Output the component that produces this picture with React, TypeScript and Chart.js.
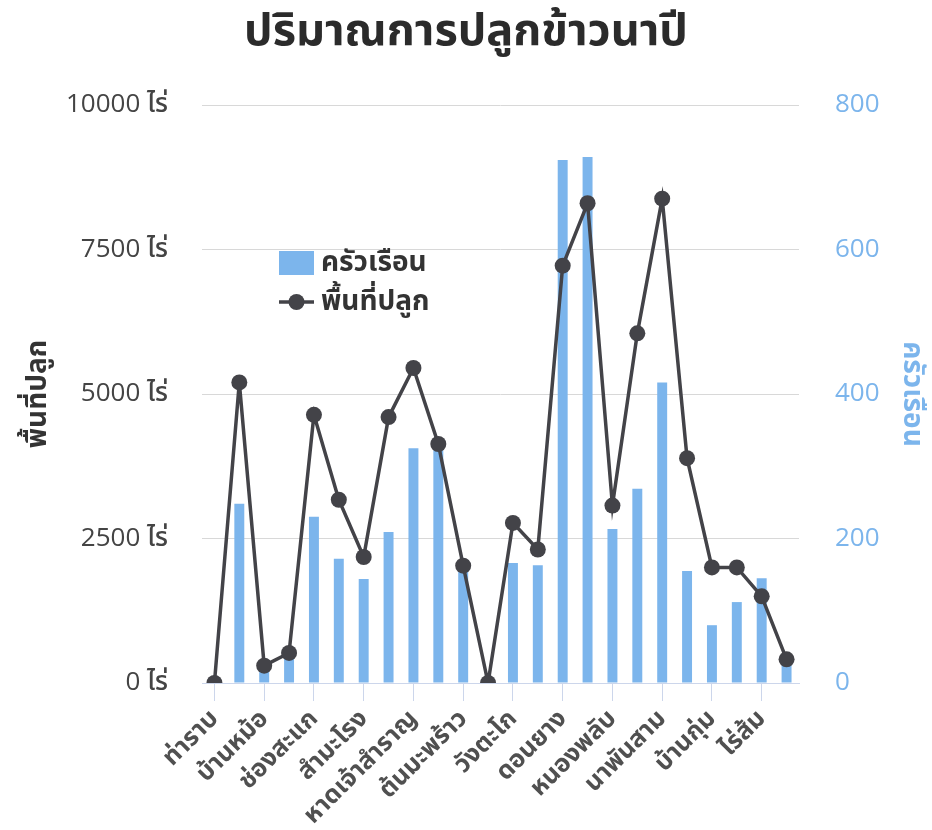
import React, { useEffect, useRef } from "react";
import { Chart, registerables } from "chart.js";

Chart.register(...registerables);

const categories: string[] = [
  "ท่าราบ", "คลองกระแชง", "บ้านหม้อ", "ต้นมะม่วง", "ช่องสะแก", "นาวุ้ง",
  "สำมะโรง", "โพพระ", "หาดเจ้าสำราญ", "หัวสะพาน", "ต้นมะพร้าว", "โพไร่หวาน",
  "วังตะโก", "บางจาน", "ดอนยาง", "หนองขนาน", "หนองพลับ", "ธงชัย",
  "นาพันสาม", "หนองโสน", "บ้านกุ่ม", "เวียงคอย", "ไร่ส้ม", "บางจาก",
];

const households: number[] = [
  0, 248, 20, 35, 230, 172, 144, 209, 325, 322, 155, 0,
  166, 163, 724, 728, 213, 269, 416, 155, 80, 112, 145, 25,
];

const plantedArea: number[] = [
  0, 5200, 300, 520, 4640, 3170, 2180, 4600, 5450, 4135, 2030, 0,
  2770, 2310, 7220, 8300, 3070, 6050, 8380, 3890, 2000, 2000, 1500, 410,
];

const leftTicks: number[] = [0, 2500, 5000, 7500, 10000];
const rightTicks: number[] = [0, 200, 400, 600, 800];

const TITLE = "ปริมาณการปลูกข้าวนาปี";
const BAR_LABEL = "ครัวเรือน";
const LINE_LABEL = "พื้นที่ปลูก";
const UNIT = "ไร่";

const FONT = "'Open Sans', 'Noto Sans Thai', 'Noto Sans', Tahoma, sans-serif";
const BAR_COLOR = "#7cb5ec";
const LINE_COLOR = "#434348";

const legendPlugin = {
  id: "insideLegend",
  afterDatasetsDraw(chart: any) {
    const { ctx, chartArea } = chart;
    const x0 = chartArea.left + 77;
    const y0 = chartArea.top + 158;
    const ds = chart.data.datasets;
    ctx.save();
    ctx.font = `bold 28px ${FONT}`;
    ctx.textBaseline = "middle";
    ctx.textAlign = "left";
    // bar item
    ctx.fillStyle = ds[0].backgroundColor;
    ctx.fillRect(x0, y0 - 12, 35, 24);
    ctx.fillStyle = "#333333";
    ctx.fillText(ds[0].label, x0 + 42, y0);
    // line item
    const y1 = y0 + 39;
    ctx.strokeStyle = ds[1].borderColor;
    ctx.lineWidth = 3.5;
    ctx.beginPath();
    ctx.moveTo(x0, y1);
    ctx.lineTo(x0 + 35, y1);
    ctx.stroke();
    ctx.fillStyle = ds[1].pointBackgroundColor;
    ctx.beginPath();
    ctx.arc(x0 + 17.5, y1, 8, 0, Math.PI * 2);
    ctx.fill();
    ctx.fillStyle = "#333333";
    ctx.fillText(ds[1].label, x0 + 42, y1);
    ctx.restore();
  },
};

export default function App() {
  const ref = useRef<HTMLCanvasElement | null>(null);

  useEffect(() => {
    if (!ref.current) return;
    const chart = new Chart(ref.current, {
      type: "bar",
      data: {
        labels: categories,
        datasets: [
          {
            type: "bar",
            label: BAR_LABEL,
            data: households,
            backgroundColor: BAR_COLOR,
            yAxisID: "y1",
            order: 1,
            categoryPercentage: 0.8,
            barPercentage: 0.5,
          } as any,
          {
            type: "line",
            label: LINE_LABEL,
            data: plantedArea,
            borderColor: LINE_COLOR,
            backgroundColor: LINE_COLOR,
            pointBackgroundColor: LINE_COLOR,
            pointBorderColor: LINE_COLOR,
            pointBorderWidth: 0,
            pointRadius: 8,
            borderWidth: 3.5,
            tension: 0,
            yAxisID: "y",
            order: 0,
          } as any,
        ],
      },
      options: {
        animation: false,
        responsive: true,
        maintainAspectRatio: false,
        layout: { padding: 0 },
        plugins: {
          legend: { display: false },
          tooltip: { enabled: false },
          title: {
            display: true,
            text: TITLE,
            color: "#2b2b2b",
            font: { family: FONT, size: 45, weight: "bold" },
            padding: { top: 5, bottom: 46 },
          },
        },
        scales: {
          x: {
            offset: true,
            grid: {
              offset: false,
              drawOnChartArea: false,
              drawTicks: true,
              tickLength: 18,
              tickColor: (c: any) => (c.index % 2 === 0 ? "#ccd6eb" : "rgba(0,0,0,0)"),
            },
            border: { display: true, color: "#ccd6eb", width: 1 },
            ticks: {
              autoSkip: false,
              maxRotation: 45,
              minRotation: 45,
              padding: 3,
              color: "#505050",
              font: { family: FONT, size: 25, weight: "bold" },
              callback: (_v: any, i: number) => (i % 2 === 0 ? categories[i] : ""),
            },
            afterFit: (s: any) => {
              s.height = 147;
            },
          },
          y: {
            position: "left",
            min: 0,
            max: 10000,
            afterBuildTicks: (s: any) => {
              s.ticks = leftTicks.map((v) => ({ value: v }));
            },
            grid: { color: "#d8d8d8", drawTicks: false, lineWidth: 1 },
            border: { display: false },
            ticks: {
              padding: 34,
              color: "#444444",
              font: { family: FONT, size: 26, weight: "500" },
              callback: (v: any) => `${v} ${UNIT}`,
            },
            title: {
              display: true,
              text: LINE_LABEL,
              color: "#333333",
              font: { family: FONT, size: 28, weight: "bold" },
              padding: { top: 21, bottom: 0 },
            },
            afterFit: (s: any) => {
              s.width = 202;
            },
          },
          y1: {
            position: "right",
            min: 0,
            max: 800,
            afterBuildTicks: (s: any) => {
              s.ticks = rightTicks.map((v) => ({ value: v }));
            },
            grid: { drawOnChartArea: false, drawTicks: false },
            border: { display: false },
            ticks: {
              padding: 36,
              color: BAR_COLOR,
              font: { family: FONT, size: 26, weight: "500" },
            },
            title: {
              display: true,
              text: BAR_LABEL,
              color: BAR_COLOR,
              font: { family: FONT, size: 28, weight: "bold" },
              padding: { top: 3, bottom: 0 },
            },
            afterFit: (s: any) => {
              s.width = 133;
            },
          },
        },
      } as any,
      plugins: [legendPlugin],
    });
    return () => chart.destroy();
  }, []);

  return (
    <div style={{ position: "absolute", left: 0, top: 0, width: 932, height: 830, background: "#ffffff" }}>
      <canvas ref={ref} />
    </div>
  );
}
